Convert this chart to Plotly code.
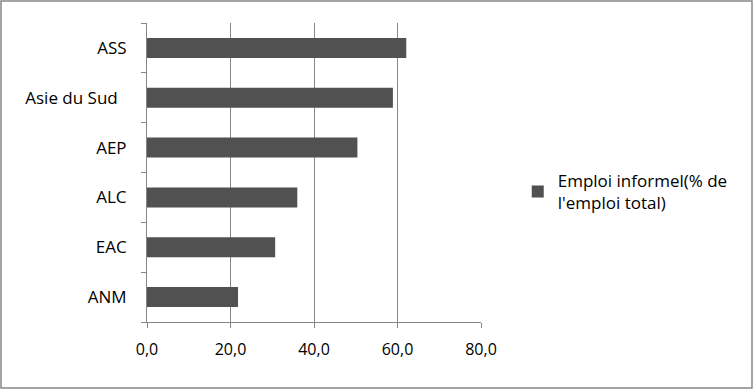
import plotly.graph_objects as go

categories = ["ASS", "Asie du Sud", "AEP", "ALC", "EAC", "ANM"]
values = [62.1, 58.9, 50.4, 36.0, 30.7, 21.8]
x_ticks = [0, 20, 40, 60, 80]
series_name = "Emploi informel(% de<br>l'emploi total)"

W, H = 753, 389
L, R, T, B = 147, 272, 23, 67
PW, PH = W - L - R, H - T - B

fig = go.Figure()
fig.add_trace(go.Bar(
    y=categories, x=values, orientation="h",
    marker=dict(color="#515151", line=dict(width=0)),
    name=series_name, showlegend=True,
))

fig.update_layout(
    width=W, height=H,
    margin=dict(l=L, r=R, t=T, b=B, autoexpand=False),
    paper_bgcolor="white", plot_bgcolor="white",
    font=dict(family="Open Sans, Liberation Sans, sans-serif", size=16, color="#000000"),
    bargap=0.6,
    separators=", ",
    showlegend=True,
    legend=dict(x=1.11, y=0.435, xanchor="left", yanchor="middle",
                font=dict(size=17), itemwidth=30, bgcolor="rgba(0,0,0,0)"),
    xaxis=dict(range=[0, 80], tickvals=x_ticks, tickformat=".1f",
               showgrid=True, gridcolor="#868686", gridwidth=1,
               showline=True, linecolor="#868686", linewidth=1,
               ticks="outside", ticklen=5, tickcolor="#868686",
               zeroline=False, tickfont=dict(size=16), ticklabelstandoff=8),
    yaxis=dict(autorange="reversed", showline=True, linecolor="#868686", linewidth=1,
               ticks="outside", ticklen=5, tickcolor="#868686", tickson="boundaries",
               tickvals=categories,
               ticktext=[c + "\u00a0\u00a0" if " " in c else c for c in categories],
               showgrid=False, tickfont=dict(size=17), ticklabelstandoff=16),
)

fig.add_shape(type="rect", xref="paper", yref="paper",
              x0=(1 - L) / PW, x1=(W - 1 - L) / PW,
              y0=(1 - B) / PH, y1=(H - B - 1) / PH,
              line=dict(color="#868686", width=1.5), layer="below")

fig.write_html("out.html", config={"displayModeBar": False},
               post_script="document.body.style.margin='0';document.body.style.padding='0';")
